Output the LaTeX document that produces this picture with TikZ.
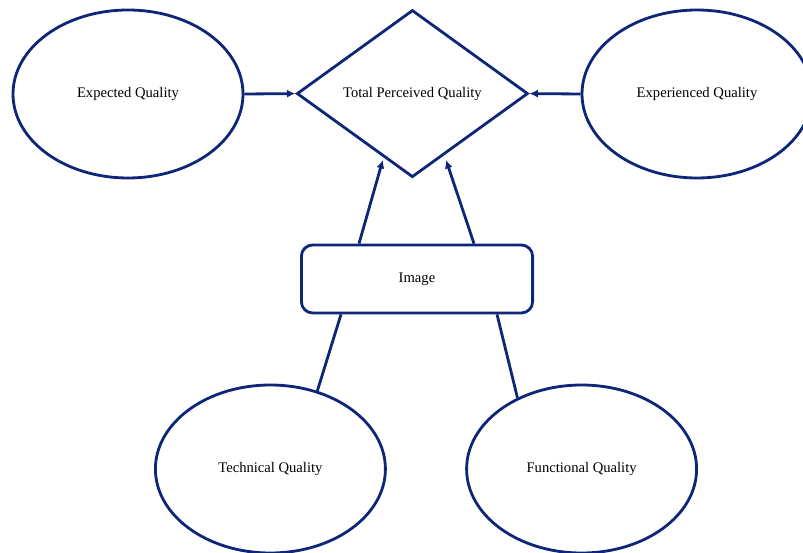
\documentclass[tikz,border=0pt]{standalone}
\usepackage{fontspec}
\setmainfont{Liberation Serif}
\usepackage{tikz}
\usetikzlibrary{calc, shapes.geometric, arrows.meta}
\definecolor{navyline}{RGB}{14,38,120}

\begin{document}
\begin{tikzpicture}[line width=2pt,
        quality/.style={ellipse, draw=navyline, minimum width=5.75cm, minimum height=4.2cm, inner sep=0pt, font=\fontsize{10.4pt}{12pt}\selectfont},
        total/.style={diamond, draw=navyline, minimum width=5.78cm, minimum height=4.18cm, inner sep=0pt, font=\fontsize{10.4pt}{12pt}\selectfont},
        imagebox/.style={rectangle, rounded corners=8pt, draw=navyline, minimum width=5.78cm, minimum height=1.7cm, font=\fontsize{10.4pt}{12pt}\selectfont},
        feed/.style={navyline, -{Latex[length=2.1mm, width=2mm]}},
        link/.style={navyline}]
            \useasboundingbox (0,0) rectangle (20.075,13.8);
            \node[quality] (EQ) at (3.2,11.45) {Expected Quality};
            \node[quality] (XQ) at (17.425,11.45) {Experienced Quality};
            \node[total] (TPQ) at (10.31,11.46) {Total Perceived Quality};
            \node[imagebox] (IMG) at (10.425,6.825) {Image};
            \node[quality] (TQ) at (6.76,2.075) {Technical Quality};
            \node[quality] (FQ) at (14.54,2.075) {Functional Quality};
            % arrow ends
            \coordinate (IMG_1) at ($(IMG.north)+(-1.45,0)$);
            \coordinate (IMG_2) at ($(IMG.north)+(1.425,0)$);
            \coordinate (IMG_3) at ($(IMG.south)+(-1.9,0)$);
            \coordinate (IMG_4) at ($(IMG.south)+(2.0,0)$);
            \coordinate (TPQ_1) at ($(TPQ.center)+(-0.74,-1.66)$);
            \coordinate (TPQ_2) at ($(TPQ.center)+(0.84,-1.66)$);
            \draw[feed] (EQ.east) -- (TPQ.west);
            \draw[feed] (XQ.west) -- (TPQ.east);
            \draw[feed] (IMG_1) -- (TPQ_1);
            \draw[feed] (IMG_2) -- (TPQ_2);
            \draw[link] (TQ.59) -- (IMG_3);
            \draw[link] (FQ.132) -- (IMG_4);
        \end{tikzpicture}
\end{document}
